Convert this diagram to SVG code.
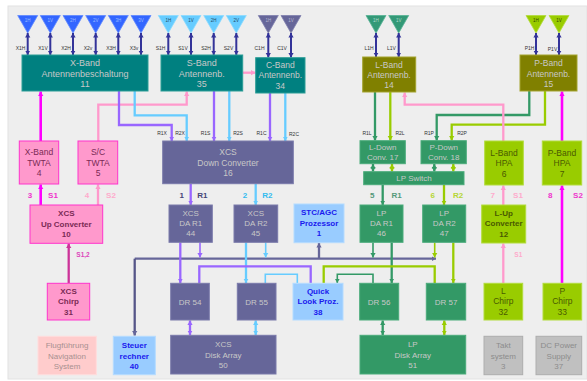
<svg xmlns="http://www.w3.org/2000/svg" width="587" height="381" viewBox="0 0 587 381">
<style>
text{font-family:"Liberation Sans",Arial,sans-serif;text-anchor:middle}
.lb{font-size:8.5px}.lbs{font-size:8px}.b{font-weight:bold;font-size:8px}
.sm{font-size:5px;fill:#333}.an{font-size:4.5px}
.tag{font-size:8px;font-weight:bold}
.lt{fill:#c8c8c8}
.teal{fill:#008080;stroke:#2a9d96}.olive{fill:#808000;stroke:#a3a32e}.slate{fill:#666699;stroke:#7a7aaa}
.gr{fill:#339966;stroke:#4aab7b}.yg{fill:#99cc00;stroke:#b2dc3c}.pk{fill:#ff99cc;stroke:#ff33cc}
.bl{fill:#99ccff;stroke:#b4dbff}.gy{fill:#c0c0c0;stroke:#adadad}.rs{fill:#ffcccc;stroke:#ffdcdc}
rect{stroke-width:1}
polygon{stroke-width:.8}
.c{fill:none;stroke-width:2.3;stroke-linejoin:miter}
.mag{stroke:#ff00ff;stroke-width:2.6;marker-end:url(#aMag)}
.pnk{stroke:#ff99cc;marker-end:url(#aPnk)}
.pur{stroke:#9966ff;marker-end:url(#aPur)}
.sky{stroke:#66ccff;marker-end:url(#aSky)}
.grn{stroke:#339966;marker-end:url(#aGrn)}
.ygn{stroke:#99cc00;marker-end:url(#aYgn)}
.nav{stroke:#333399;stroke-width:2;marker-end:url(#aNav);marker-start:url(#aNav)}
.slt{stroke:#666699;marker-end:url(#aSlt)}
.chp{stroke:#cc3399;marker-end:url(#aChp)}
.dbl.pur{marker-start:url(#aPur)}.dbl.sky{marker-start:url(#aSky)}.dbl.grn{marker-start:url(#aGrn)}.dbl.ygn{marker-start:url(#aYgn)}
.thin{stroke-width:1.6}
.nm{marker:none}
</style>
<defs>
<marker id="aMag" markerUnits="userSpaceOnUse" markerWidth="5" markerHeight="6" refX="4.5" refY="3" orient="auto-start-reverse"><path d="M0 .4L4.5 3L0 5.6z" fill="#ff00ff"/></marker>
<marker id="aPnk" markerUnits="userSpaceOnUse" markerWidth="5" markerHeight="6" refX="4.5" refY="3" orient="auto-start-reverse"><path d="M0 .4L4.5 3L0 5.6z" fill="#ff99cc"/></marker>
<marker id="aPur" markerUnits="userSpaceOnUse" markerWidth="5" markerHeight="6" refX="4.5" refY="3" orient="auto-start-reverse"><path d="M0 .4L4.5 3L0 5.6z" fill="#9966ff"/></marker>
<marker id="aSky" markerUnits="userSpaceOnUse" markerWidth="5" markerHeight="6" refX="4.5" refY="3" orient="auto-start-reverse"><path d="M0 .4L4.5 3L0 5.6z" fill="#66ccff"/></marker>
<marker id="aGrn" markerUnits="userSpaceOnUse" markerWidth="5" markerHeight="6" refX="4.5" refY="3" orient="auto-start-reverse"><path d="M0 .4L4.5 3L0 5.6z" fill="#339966"/></marker>
<marker id="aYgn" markerUnits="userSpaceOnUse" markerWidth="5" markerHeight="6" refX="4.5" refY="3" orient="auto-start-reverse"><path d="M0 .4L4.5 3L0 5.6z" fill="#99cc00"/></marker>
<marker id="aNav" markerUnits="userSpaceOnUse" markerWidth="5" markerHeight="6" refX="4.5" refY="3" orient="auto-start-reverse"><path d="M0 .4L4.5 3L0 5.6z" fill="#333399"/></marker>
<marker id="aSlt" markerUnits="userSpaceOnUse" markerWidth="5" markerHeight="6" refX="4.5" refY="3" orient="auto-start-reverse"><path d="M0 .4L4.5 3L0 5.6z" fill="#666699"/></marker>
<marker id="aChp" markerUnits="userSpaceOnUse" markerWidth="5" markerHeight="6" refX="4.5" refY="3" orient="auto-start-reverse"><path d="M0 .4L4.5 3L0 5.6z" fill="#cc3399"/></marker>
</defs>
<rect x="0" y="0" width="587" height="381" fill="#ffffff" stroke="none"/>
<rect x="8" y="6" width="579" height="373" fill="#eeeeee" stroke="#e2e2e2"/>

<g id="connectors">
<path class="c nav" d="M27.7 33V55"/><path class="c nav" d="M50.3 33V55"/><path class="c nav" d="M73 33V55"/><path class="c nav" d="M95.7 33V55"/><path class="c nav" d="M118.3 33V55"/><path class="c nav" d="M141 33V55"/>
<path class="c nav" d="M168.3 33V55"/><path class="c nav" d="M191 33V55"/><path class="c nav" d="M213.7 33V55"/><path class="c nav" d="M236.3 33V55"/>
<path class="c nav" d="M268.3 33V57.5"/><path class="c nav" d="M291 33V57.5"/>
<path class="c nav" d="M376 33V57"/><path class="c nav" d="M398.7 33V57"/>
<path class="c nav" d="M536 33V55"/><path class="c nav" d="M559 33V55"/>

<path class="c mag" d="M40.7 141V91.5"/>
<path class="c pnk" d="M98.3 141V104.7H186.7V91.5"/>
<path class="c pnk" d="M243 72.7H255.5"/>
<path class="c pur" d="M119 91V125H171.7V141"/>
<path class="c sky" d="M134.7 91V115.3H186.7V141"/>
<path class="c pur" d="M214 91V141"/>
<path class="c sky" d="M229.3 91V141"/>
<path class="c pur" d="M270 93V141"/>
<path class="c sky" d="M285.3 93V141"/>
<path class="c grn" d="M375 92V140.5"/>
<path class="c ygn" d="M390.3 92V140.5"/>
<path class="c grn" d="M529.3 91V115H436.7V140.5"/>
<path class="c ygn" d="M545 91V124.7H451.7V140.5"/>
<path class="c pnk" d="M503.3 141V104.7H404.7V92.5"/>
<path class="c mag" d="M562 141V91.5"/>

<path class="c grn dbl" d="M373 164V171.5"/><path class="c ygn dbl" d="M392 164V171.5"/>
<path class="c grn dbl" d="M434.3 164V171.5"/><path class="c ygn dbl" d="M453.3 164V171.5"/>
<path class="c grn" d="M382.7 184.7V205"/>
<path class="c ygn" d="M444 184.7V205"/>
<path class="c pur" d="M190.7 184V205"/>
<path class="c sky" d="M255.7 184V205"/>
<path class="c mag" d="M40.7 205V184.5"/>
<path class="c pnk" d="M98 205V184.5"/>
<path class="c chp" d="M68.7 283V243.5"/>
<path class="c pnk" d="M503.3 205V185.5"/>
<path class="c pnk" d="M503.3 283V243.5"/>
<path class="c mag" d="M562 283V185.5"/>

<path class="c slt" d="M134.7 258.7H436"/>
<path class="c" stroke="#555588" marker-end="url(#aSlt)" d="M134.7 258.7V335.5"/>
<path class="c slt" d="M319 258.7V243"/>
<path class="c pur" d="M180.3 242.5V283"/>
<path class="c pur thin" d="M200 242.5V257.5"/>
<path class="c sky" d="M246 242.5V283"/>
<path class="c sky thin" d="M265.7 242.5V257.5"/>
<path class="c grn" d="M391.7 242.5V283"/>
<path class="c grn thin" d="M373 242.5V257.5"/>
<path class="c ygn" d="M453.3 242.5V283"/>
<path class="c ygn thin" d="M434.7 242.5V257.5"/>
<path class="c pur nm" d="M199.3 283V266.3H310.7V283"/>
<path class="c sky thin nm" d="M265.3 283V274.3H297.3V283"/>
<path class="c ygn nm" d="M434.7 283V266.3H323.7V283"/>
<path class="c grn thin" d="M373 283V274.3H337.3V283"/>
<path class="c pur dbl" d="M190 320.5V335"/>
<path class="c sky dbl" d="M255.7 320.5V335"/>
<path class="c grn dbl" d="M382.7 320.5V335"/>
<path class="c ygn dbl" d="M444.3 320.5V335"/>
</g>

<g id="labels">
<g class="sm">
<text class="sm" x="20.5" y="49.5">X1H</text><text class="sm" x="43" y="49.5">X1V</text><text class="sm" x="66" y="49.5">X2H</text><text class="sm" x="88" y="49.5">X2v</text><text class="sm" x="111" y="49.5">X3H</text><text class="sm" x="134" y="49.5">X3v</text>
<text class="sm" x="160.5" y="49.5">S1H</text><text class="sm" x="183" y="49.5">S1V</text><text class="sm" x="206" y="49.5">S2H</text><text class="sm" x="228.5" y="49.5">S2V</text>
<text class="sm" x="259.5" y="49.5">C1H</text><text class="sm" x="282" y="49.5">C1V</text>
<text class="sm" x="369" y="49.5">L1H</text><text class="sm" x="391.5" y="49.5">L1V</text>
<text class="sm" x="529.5" y="49.5">P1H</text><text class="sm" x="552.5" y="50.5">P1V</text>
<text class="sm" x="162" y="134.5">R1X</text><text class="sm" x="180" y="134.5">R2X</text><text class="sm" x="205.5" y="134.5">R1S</text><text class="sm" x="238" y="134.5">R2S</text>
<text class="sm" x="261.5" y="134.5">R1C</text><text class="sm" x="294" y="135.5">R2C</text>
<text class="sm" x="367" y="134.5">R1L</text><text class="sm" x="400" y="134.5">R2L</text><text class="sm" x="429" y="134.5">R1P</text><text class="sm" x="462" y="134.5">R2P</text>
</g>
<text class="tag" fill="#ee33cc" x="30" y="198">3</text><text class="tag" fill="#ee33cc" x="53" y="198">S1</text>
<text class="tag" fill="#ffaacc" x="87" y="198">4</text><text class="tag" fill="#ffaacc" x="111" y="198">S2</text>
<text class="tag" fill="#444477" x="181.7" y="198">1</text><text class="tag" fill="#444477" x="202.3" y="198">R1</text>
<text class="tag" fill="#33bbee" x="245" y="198">2</text><text class="tag" fill="#33bbee" x="267.3" y="198">R2</text>
<text class="tag" fill="#55997a" x="372.3" y="198">5</text><text class="tag" fill="#55997a" x="396.7" y="198">R1</text>
<text class="tag" fill="#b5d633" x="432.7" y="198">6</text><text class="tag" fill="#b5d633" x="458" y="198">R2</text>
<text class="tag" fill="#ffaacc" x="492.7" y="198">7</text><text class="tag" fill="#ffaacc" x="518" y="198">S1</text>
<text class="tag" fill="#ee33cc" x="550.3" y="198">8</text><text class="tag" fill="#ee33cc" x="578" y="198">S2</text>
<text class="tag" fill="#dd44bb" style="font-size:6.5px" x="83" y="256.5">S1,2</text>
<text class="tag" fill="#ffaacc" style="font-size:6.5px" x="518.3" y="256.5">S1</text>
</g>

<g id="ant-x1h"><polygon fill="#3366ff" stroke="#5f88ff" points="17.7,15.5 37.7,15.5 27.7,33"/><text class="an" fill="#99bbff" x="27.7" y="21.5">1H</text></g>
<g id="ant-x1v"><polygon fill="#3366ff" stroke="#5f88ff" points="40.3,15.5 60.3,15.5 50.3,33"/><text class="an" fill="#99bbff" x="50.3" y="21.5">1V</text></g>
<g id="ant-x2h"><polygon fill="#3366ff" stroke="#5f88ff" points="63,15.5 83,15.5 73,33"/><text class="an" fill="#99bbff" x="73" y="21.5">2H</text></g>
<g id="ant-x2v"><polygon fill="#3366ff" stroke="#5f88ff" points="85.7,15.5 105.7,15.5 95.7,33"/><text class="an" fill="#99bbff" x="95.7" y="21.5">2V</text></g>
<g id="ant-x3h"><polygon fill="#3366ff" stroke="#5f88ff" points="108.3,15.5 128.3,15.5 118.3,33"/><text class="an" fill="#99bbff" x="118.3" y="21.5">3H</text></g>
<g id="ant-x3v"><polygon fill="#3366ff" stroke="#5f88ff" points="131,15.5 151,15.5 141,33"/><text class="an" fill="#99bbff" x="141" y="21.5">3V</text></g>
<g id="ant-s1h"><polygon fill="#66ccff" stroke="#8adaff" points="158.3,15.5 178.3,15.5 168.3,33"/><text class="an" fill="#1f4a66" x="168.3" y="21.5">1H</text></g>
<g id="ant-s1v"><polygon fill="#66ccff" stroke="#8adaff" points="181,15.5 201,15.5 191,33"/><text class="an" fill="#1f4a66" x="191" y="21.5">1V</text></g>
<g id="ant-s2h"><polygon fill="#66ccff" stroke="#8adaff" points="203.7,15.5 223.7,15.5 213.7,33"/><text class="an" fill="#1f4a66" x="213.7" y="21.5">2H</text></g>
<g id="ant-s2v"><polygon fill="#66ccff" stroke="#8adaff" points="226.3,15.5 246.3,15.5 236.3,33"/><text class="an" fill="#1f4a66" x="236.3" y="21.5">2V</text></g>
<g id="ant-c1h"><polygon fill="#666699" stroke="#7f7fad" points="258.3,15.5 278.3,15.5 268.3,33"/><text class="an" fill="#b8b8d0" x="268.3" y="21.5">1H</text></g>
<g id="ant-c1v"><polygon fill="#666699" stroke="#7f7fad" points="281,15.5 301,15.5 291,33"/><text class="an" fill="#b8b8d0" x="291" y="21.5">1V</text></g>
<g id="ant-l1h"><polygon fill="#339977" stroke="#55b394" points="366,15.5 386,15.5 376,33"/><text class="an" fill="#b0dccc" x="376" y="21.5">1H</text></g>
<g id="ant-l1v"><polygon fill="#339977" stroke="#55b394" points="388.7,15.5 408.7,15.5 398.7,33"/><text class="an" fill="#b0dccc" x="398.7" y="21.5">1V</text></g>
<g id="ant-p1h"><polygon fill="#99cc00" stroke="#b2dc3c" points="526,15.5 546,15.5 536,33"/><text class="an" fill="#334400" x="536" y="21.5">1H</text></g>
<g id="ant-p1v"><polygon fill="#99cc00" stroke="#b2dc3c" points="549,15.5 569,15.5 559,33"/><text class="an" fill="#334400" x="559" y="21.5">1V</text></g>

<g id="n11"><rect class="teal" x="22" y="55" width="126" height="36"/><text class="lb lt" style="font-size:9px"><tspan x="85" y="66">X-Band</tspan><tspan x="85" y="76.5">Antennenbeschaltung</tspan><tspan x="85" y="87">11</tspan></text></g>
<g id="n35"><rect class="teal" x="161" y="55" width="81.7" height="36"/><text class="lb lt" style="font-size:9px"><tspan x="201.7" y="66">S-Band</tspan><tspan x="201.7" y="76.5">Antennenb.</tspan><tspan x="201.7" y="87">35</tspan></text></g>
<g id="n34"><rect class="teal" x="255.7" y="57.7" width="49.3" height="35.3"/><text class="lb lt"><tspan x="280.3" y="68">C-Band</tspan><tspan x="280.3" y="78">Antennenb.</tspan><tspan x="280.3" y="88.5">34</tspan></text></g>
<g id="n14"><rect class="olive" x="362.7" y="57" width="53" height="35"/><text class="lb lt"><tspan x="389" y="67.5">L-Band</tspan><tspan x="389" y="78">Antennenb.</tspan><tspan x="389" y="88">14</tspan></text></g>
<g id="n15"><rect class="olive" x="520" y="55" width="57" height="36"/><text class="lb lt"><tspan x="548.5" y="66">P-Band</tspan><tspan x="548.5" y="76.5">Antennenb.</tspan><tspan x="548.5" y="87">15</tspan></text></g>
<g id="n4"><rect class="pk" x="19.3" y="141" width="39.4" height="43"/><text class="lb" fill="#7a2a55"><tspan x="39" y="155">X-Band</tspan><tspan x="39" y="165.5">TWTA</tspan><tspan x="39" y="176">4</tspan></text></g>
<g id="n5"><rect class="pk" x="78" y="141" width="39.7" height="43"/><text class="lb" fill="#7a2a55"><tspan x="98" y="155">S/C</tspan><tspan x="98" y="165.5">TWTA</tspan><tspan x="98" y="176">5</tspan></text></g>
<g id="n16"><rect class="slate" x="162.7" y="141" width="130.6" height="42.7"/><text class="lb lt"><tspan x="228" y="155">XCS</tspan><tspan x="228" y="165.5">Down Converter</tspan><tspan x="228" y="176">16</tspan></text></g>
<g id="n17"><rect class="gr" x="360" y="140.7" width="45.3" height="23"/><text class="lbs lt"><tspan x="382.7" y="150">L-Down</tspan><tspan x="382.7" y="160">Conv. 17</tspan></text></g>
<g id="n18"><rect class="gr" x="421" y="140.7" width="45.3" height="23"/><text class="lbs lt"><tspan x="443.7" y="150">P-Down</tspan><tspan x="443.7" y="160">Conv. 18</tspan></text></g>
<g id="lpswitch"><rect class="gr" x="363.7" y="171.7" width="100.3" height="13"/><text class="lbs lt" x="414" y="181">LP Switch</text></g>
<g id="n6"><rect class="yg" x="484.7" y="141" width="38.6" height="44"/><text class="lb" fill="#4a5a00"><tspan x="504" y="155.5">L-Band</tspan><tspan x="504" y="166">HPA</tspan><tspan x="504" y="176.5">6</tspan></text></g>
<g id="n7"><rect class="yg" x="542.3" y="141" width="39.4" height="44"/><text class="lb" fill="#4a5a00"><tspan x="562" y="155.5">P-Band</tspan><tspan x="562" y="166">HPA</tspan><tspan x="562" y="176.5">7</tspan></text></g>
<g id="n10"><rect class="pk" x="30" y="205" width="72.7" height="38.3"/><text class="b" fill="#7a2a55"><tspan x="66.3" y="216">XCS</tspan><tspan x="66.3" y="226.5">Up Converter</tspan><tspan x="66.3" y="237">10</tspan></text></g>
<g id="n31"><rect class="pk" x="47.3" y="283.3" width="42.4" height="36.7"/><text class="b" fill="#7a2a55"><tspan x="68.5" y="293.5">XCS</tspan><tspan x="68.5" y="304">Chirp</tspan><tspan x="68.5" y="314.5">31</tspan></text></g>
<g id="navsys"><rect class="rs" x="38" y="336.3" width="58.3" height="38.4"/><text class="lbs" fill="#a89090"><tspan x="67" y="348">Flugführung</tspan><tspan x="67" y="358.5">Navigation</tspan><tspan x="67" y="369">System</tspan></text></g>
<g id="n40"><rect class="bl" x="113.3" y="336.3" width="42" height="38.4"/><text class="b" fill="#1a1aee"><tspan x="134.3" y="348">Steuer</tspan><tspan x="134.3" y="358.5">rechner</tspan><tspan x="134.3" y="369">40</tspan></text></g>
<g id="n50"><rect class="slate" x="170.7" y="335.3" width="105.3" height="38.7"/><text class="lbs lt"><tspan x="223.3" y="347">XCS</tspan><tspan x="223.3" y="357.5">Disk Array</tspan><tspan x="223.3" y="368">50</tspan></text></g>
<g id="n44"><rect class="slate" x="169" y="205" width="43.3" height="37.3"/><text class="lbs lt"><tspan x="190.7" y="215.5">XCS</tspan><tspan x="190.7" y="225.5">DA R1</tspan><tspan x="190.7" y="236">44</tspan></text></g>
<g id="n45"><rect class="slate" x="234" y="205" width="43.7" height="37.3"/><text class="lbs lt"><tspan x="255.8" y="215.5">XCS</tspan><tspan x="255.8" y="225.5">DA R2</tspan><tspan x="255.8" y="236">45</tspan></text></g>
<g id="n54"><rect class="slate" x="170.7" y="283.3" width="38.6" height="36.7"/><text class="lbs lt" x="190" y="304.5">DR 54</text></g>
<g id="n55"><rect class="slate" x="237.3" y="283.3" width="38.7" height="36.7"/><text class="lbs lt" x="256.5" y="304.5">DR 55</text></g>
<g id="n1"><rect class="bl" x="294" y="204" width="50" height="38.7"/><text class="b" fill="#1a1aee"><tspan x="319" y="215">STC/AGC</tspan><tspan x="319" y="225.5">Prozessor</tspan><tspan x="319" y="236">1</tspan></text></g>
<g id="n38"><rect class="bl" x="293" y="283.3" width="50" height="36.7"/><text class="b" fill="#1a1aee"><tspan x="318" y="293.5">Quick</tspan><tspan x="318" y="304">Look Proz.</tspan><tspan x="318" y="314.5">38</tspan></text></g>
<g id="n46"><rect class="gr" x="360" y="205" width="43" height="37.3"/><text class="lbs lt"><tspan x="381.5" y="215.5">LP</tspan><tspan x="381.5" y="225.5">DA R1</tspan><tspan x="381.5" y="236">46</tspan></text></g>
<g id="n47"><rect class="gr" x="422.7" y="205" width="43" height="37.3"/><text class="lbs lt"><tspan x="444.2" y="215.5">LP</tspan><tspan x="444.2" y="225.5">DA R2</tspan><tspan x="444.2" y="236">47</tspan></text></g>
<g id="n56"><rect class="gr" x="359.7" y="283.3" width="39" height="36.7"/><text class="lbs lt" x="379.2" y="304.5">DR 56</text></g>
<g id="n57"><rect class="gr" x="426.3" y="283.3" width="39.4" height="36.7"/><text class="lbs lt" x="446" y="304.5">DR 57</text></g>
<g id="n51"><rect class="gr" x="360" y="335.3" width="105.7" height="38.7"/><text class="lbs lt"><tspan x="412.8" y="347">LP</tspan><tspan x="412.8" y="357.5">Disk Array</tspan><tspan x="412.8" y="368">51</tspan></text></g>
<g id="n12"><rect class="yg" x="481.7" y="205" width="44" height="38"/><text class="b" fill="#4a5a00"><tspan x="503.7" y="215.5">L-Up</tspan><tspan x="503.7" y="226">Converter</tspan><tspan x="503.7" y="236.5">12</tspan></text></g>
<g id="n32"><rect class="yg" x="484" y="283.3" width="38.7" height="36.7"/><text class="lb" fill="#4a5a00"><tspan x="503.3" y="293.5">L</tspan><tspan x="503.3" y="304">Chirp</tspan><tspan x="503.3" y="314.5">32</tspan></text></g>
<g id="n33"><rect class="yg" x="543" y="283.3" width="38.7" height="36.7"/><text class="lb" fill="#4a5a00"><tspan x="562.3" y="293.5">P</tspan><tspan x="562.3" y="304">Chirp</tspan><tspan x="562.3" y="314.5">33</tspan></text></g>
<g id="n3"><rect class="gy" x="484" y="336.3" width="38.7" height="38.4"/><text class="lbs" fill="#8c8c8c"><tspan x="503.3" y="348">Takt</tspan><tspan x="503.3" y="358.5">system</tspan><tspan x="503.3" y="369">3</tspan></text></g>
<g id="n37"><rect class="gy" x="536" y="336.3" width="45.7" height="38.4"/><text class="lbs" fill="#8c8c8c"><tspan x="558.8" y="348">DC Power</tspan><tspan x="558.8" y="358.5">Supply</tspan><tspan x="558.8" y="369">37</tspan></text></g>
</svg>
